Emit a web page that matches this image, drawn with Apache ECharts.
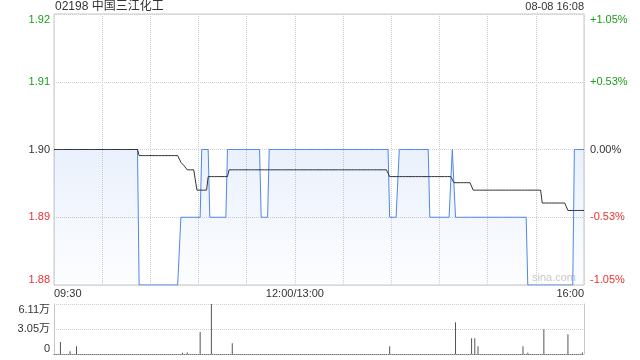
<!DOCTYPE html>
<html><head><meta charset="utf-8">
<script src="https://cdn.jsdelivr.net/npm/echarts@6/dist/echarts.min.js"></script>
<style>html,body{margin:0;padding:0;background:#fff}#c{width:640px;height:360px}</style>
</head><body><div id="c"></div>
<script>
// ---- data ----
const titleText = '02198 中国三江化工';
const stampText = '08-08 16:08';
const watermarkText = 'sina.com';
const preClose = 1.90;
const totalMinutes = 330; // 09:30-12:00 + 13:00-16:00

const priceTickLabels = ['1.88', '1.89', '1.90', '1.91', '1.92'];
const pctTickLabels = ['-1.05%', '-0.53%', '0.00%', '+0.53%', '+1.05%'];
const volTickLabels = ['0', '3.05万', '6.11万'];
const timeTickMinutes = [0, 150, 330];
const timeTickLabels = ['09:30', '12:00/13:00', '16:00'];

// price (minute line) as runs: from minute index, value
const priceRunStart = [0, 53, 79, 92, 97, 108, 129, 134, 209, 215, 234, 248, 250, 295, 324];
const priceRunValue = [1.90, 1.88, 1.89, 1.90, 1.89, 1.90, 1.89, 1.90, 1.89, 1.90, 1.89, 1.90, 1.89, 1.88, 1.90];

// average price as runs
const avgRunStart = [0, 53, 79, 81, 83, 89, 96, 109, 209, 249, 261, 304, 320];
const avgRunValue = [1.9000, 1.8991, 1.8981, 1.8976, 1.8970, 1.8940, 1.8960, 1.8970, 1.8960, 1.8951, 1.8940, 1.8921, 1.8910];

// volume (shares) at minute index
const volMinute = [4, 10, 14, 80, 83, 91, 98, 111, 209, 250, 260, 262, 264, 292, 295, 305, 320, 329];
const volValue  = [14700, 3300, 9400, 1500, 1800, 26900, 61100, 13000, 9400, 38700, 19200, 19200, 9400, 9400, 1500, 30200, 24000, 1800];
const volMax = 61100;

// ---- build ----
function expandRuns(starts, values, n) {
  const out = []; let k = 0;
  for (let m = 0; m <= n; m++) {
    while (k + 1 < starts.length && m >= starts[k + 1]) k++;
    out.push([m, values[k]]);
  }
  return out;
}
const priceData = expandRuns(priceRunStart, priceRunValue, totalMinutes);
const avgData = expandRuns(avgRunStart, avgRunValue, totalMinutes);
const volData = volMinute.map((m, i) => [m, volValue[i]]);

const pMin = 1.88, pMax = 1.92, pInt = 0.01;
const pctMax = (pMax - preClose) / preClose * 100;
const GREEN = '#1a9e1a', RED = '#ee3030', DARK = '#333';
const FONT = '"Liberation Sans", Arial, "Noto Sans CJK SC", sans-serif';
function colorByIdx(i) { return i < 2 ? RED : (i > 2 ? GREEN : DARK); }
function pIdx(v) { return Math.round((parseFloat(v) - pMin) / pInt); }
function qIdx(v) { return Math.round((parseFloat(v) + pctMax) / (pctMax / 2)); }

const chart = echarts.init(document.getElementById('c'));
chart.setOption({
  animation: false,
  textStyle: { fontFamily: FONT },
  grid: [
    { left: 54, top: 14, width: 530, height: 271, show: true, borderColor: '#c8c8c8', borderWidth: 1 },
    { left: 54, top: 304, width: 530, height: 50 }
  ],
  xAxis: [
    { gridIndex: 0, type: 'value', min: 0, max: totalMinutes, interval: 30,
      axisLine: { show: false }, axisTick: { show: false },
      splitLine: { show: true, lineStyle: { color: '#cfcfcf', type: [1, 1] } },
      axisLabel: { show: true, color: DARK, fontSize: 11, fontFamily: FONT, margin: 3,
        showMinLabel: true, showMaxLabel: true, alignMinLabel: 'left', alignMaxLabel: 'right',
        formatter: v => { const i = timeTickMinutes.indexOf(Math.round(parseFloat(v))); return i >= 0 ? timeTickLabels[i] : ''; } } },
    { gridIndex: 1, type: 'value', min: 0, max: totalMinutes,
      axisLine: { show: true, lineStyle: { color: '#777', type: [1, 1] } },
      axisTick: { show: false }, axisLabel: { show: false }, splitLine: { show: false } }
  ],
  yAxis: [
    { gridIndex: 0, type: 'value', min: pMin, max: pMax, interval: pInt, position: 'left',
      axisLine: { show: false }, axisTick: { show: false },
      splitLine: { show: true, lineStyle: { color: '#cfcfcf', type: [1, 1] } },
      axisLabel: { fontSize: 11, fontFamily: FONT, margin: 4,
        verticalAlignMinLabel: 'bottom', verticalAlignMaxLabel: 'top',
        color: v => colorByIdx(pIdx(v)), formatter: v => priceTickLabels[pIdx(v)] } },
    { gridIndex: 0, type: 'value', min: -pctMax, max: pctMax, interval: pctMax / 2, position: 'right',
      axisLine: { show: false }, axisTick: { show: false }, splitLine: { show: false },
      axisLabel: { fontSize: 11, fontFamily: FONT, margin: 6,
        verticalAlignMinLabel: 'bottom', verticalAlignMaxLabel: 'top',
        color: v => colorByIdx(qIdx(v)), formatter: v => pctTickLabels[qIdx(v)] } },
    { gridIndex: 1, type: 'value', min: 0, max: volMax, interval: volMax / 2, position: 'left',
      axisLine: { show: true, lineStyle: { color: '#c8c8c8' } }, axisTick: { show: false },
      splitLine: { show: true, lineStyle: { color: '#cfcfcf', type: [1, 1] } },
      axisLabel: { fontSize: 11, fontFamily: FONT, color: DARK, margin: 4,
        verticalAlignMinLabel: 'bottom', verticalAlignMaxLabel: 'top',
        formatter: v => volTickLabels[Math.round(parseFloat(v) / (volMax / 2))] } },
    { gridIndex: 1, type: 'value', min: 0, max: volMax, position: 'right',
      axisLine: { show: true, lineStyle: { color: '#c8c8c8' } }, axisTick: { show: false },
      axisLabel: { show: false }, splitLine: { show: false } }
  ],
  series: [
    { type: 'line', xAxisIndex: 0, yAxisIndex: 0, data: priceData, symbol: 'none',
      lineStyle: { color: '#4f87ea', width: 1 },
      areaStyle: { origin: 'start', color: new echarts.graphic.LinearGradient(0, 0, 0, 1, [
        { offset: 0, color: 'rgba(79,135,234,0.17)' }, { offset: 1, color: 'rgba(79,135,234,0.02)' }]) } },
    { type: 'line', xAxisIndex: 0, yAxisIndex: 0, data: avgData, symbol: 'none',
      lineStyle: { color: '#333', width: 1 } },
    { type: 'bar', xAxisIndex: 1, yAxisIndex: 2, data: volData, barWidth: 1,
      itemStyle: { color: '#555' } }
  ],
  graphic: [
    { type: 'text', left: 55, top: 1, style: { text: titleText, fill: DARK, font: '12px ' + FONT } },
    { type: 'text', right: 56, top: 1, style: { text: stampText, fill: DARK, font: '11px ' + FONT } },
    { type: 'text', left: 532, top: 272, style: { text: watermarkText, fill: '#c8c8c8', font: '11px ' + FONT } }
  ]
});
</script>
</body></html>
